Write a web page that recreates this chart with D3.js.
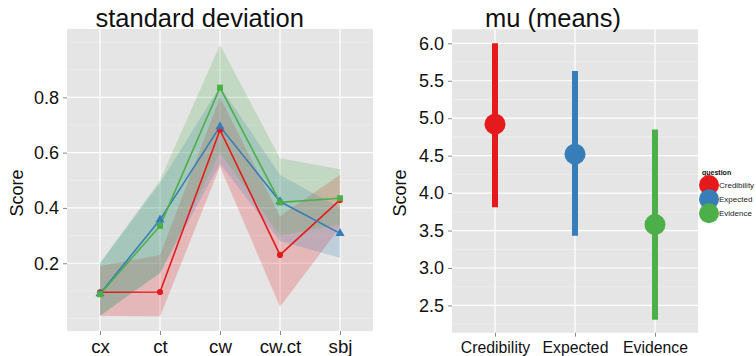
<!DOCTYPE html>
<html>
<head>
<meta charset="utf-8">
<script src="https://cdn.jsdelivr.net/npm/d3@7"></script>
<style>
  body { margin: 0; background: #fff; }
  svg { display: block; font-family: "Liberation Sans", Arial, sans-serif; }
</style>
</head>
<body>
<svg id="chart" width="756" height="356"></svg>
<script>
// --- data ---
const questions = ['Credibility', 'Expected', 'Evidence'];
const colors = ['#E41A1C', '#377EB8', '#4DAF4A'];

// left panel: standard deviation per condition
const sdCats = ['cx', 'ct', 'cw', 'cw.ct', 'sbj'];
const sdCredibility = [0.095, 0.096, 0.682, 0.23, 0.429];
const sdExpected = [0.09, 0.357, 0.694, 0.423, 0.308];
const sdEvidence = [0.088, 0.335, 0.835, 0.42, 0.435];
const sdLowCredibility = [0.01, 0.007, 0.55, 0.043, 0.33];
const sdHighCredibility = [0.19, 0.23, 0.8, 0.37, 0.52];
const sdLowExpected = [0.01, 0.165, 0.56, 0.28, 0.22];
const sdHighExpected = [0.2, 0.49, 0.84, 0.52, 0.4];
const sdLowEvidence = [0.01, 0.165, 0.6, 0.3, 0.34];
const sdHighEvidence = [0.2, 0.5, 0.99, 0.58, 0.54];
const sdTicks = [0.2, 0.4, 0.6, 0.8];
const sdMinor = [0.0, 0.1, 0.3, 0.5, 0.7, 0.9, 1.0];

// right panel: mu (means)
const muMean = [4.92, 4.52, 3.58];
const muLow = [3.81, 3.43, 2.31];
const muHigh = [6.0, 5.63, 4.85];
const muTicks = [2.5, 3.0, 3.5, 4.0, 4.5, 5.0, 5.5, 6.0];
const muMinor = [2.25, 2.75, 3.25, 3.75, 4.25, 4.75, 5.25, 5.75];

const sdSeries = [
  { q: questions[0], v: sdCredibility, lo: sdLowCredibility, hi: sdHighCredibility },
  { q: questions[1], v: sdExpected, lo: sdLowExpected, hi: sdHighExpected },
  { q: questions[2], v: sdEvidence, lo: sdLowEvidence, hi: sdHighEvidence }
];

const svg = d3.select('#chart');
const color = d3.scaleOrdinal().domain(questions).range(colors);
const panelBg = '#E5E5E5';

// ---------- left panel ----------
const L = { x0: 67, x1: 373, y0: 29, y1: 331 };
const xL = d3.scalePoint().domain(sdCats).range([L.x0, L.x1]).padding(0.55);
const yL = d3.scaleLinear().domain([-0.045, 1.047]).range([L.y1, L.y0]);

const gL = svg.append('g');
gL.append('rect').attr('x', L.x0).attr('y', L.y0)
  .attr('width', L.x1 - L.x0).attr('height', L.y1 - L.y0).attr('fill', panelBg);

gL.selectAll('.minor').data(sdMinor).enter().append('line')
  .attr('x1', L.x0).attr('x2', L.x1)
  .attr('y1', d => yL(d)).attr('y2', d => yL(d))
  .attr('stroke', '#f2f2f2').attr('stroke-width', 0.6);
gL.selectAll('.major').data(sdTicks).enter().append('line')
  .attr('x1', L.x0).attr('x2', L.x1)
  .attr('y1', d => yL(d)).attr('y2', d => yL(d))
  .attr('stroke', '#fff').attr('stroke-width', 1.2);
gL.selectAll('.vgrid').data(sdCats).enter().append('line')
  .attr('x1', d => xL(d)).attr('x2', d => xL(d))
  .attr('y1', L.y0).attr('y2', L.y1)
  .attr('stroke', '#fff').attr('stroke-width', 1.2);

const area = d3.area()
  .x((d, i) => xL(sdCats[i]))
  .y0(d => yL(d[0])).y1(d => yL(d[1]));

gL.selectAll('.ribbon').data(sdSeries).enter().append('path')
  .attr('d', s => area(s.lo.map((lo, i) => [lo, s.hi[i]])))
  .attr('fill', s => color(s.q)).attr('fill-opacity', 0.22);

const line = d3.line().x((d, i) => xL(sdCats[i])).y(d => yL(d));
gL.selectAll('.sdline').data(sdSeries).enter().append('path')
  .attr('d', s => line(s.v))
  .attr('fill', 'none').attr('stroke', s => color(s.q)).attr('stroke-width', 1.6);

const shapes = [d3.symbolCircle, d3.symbolTriangle, d3.symbolSquare];
const sizes = [30, 36, 36];
sdSeries.forEach((s, k) => {
  gL.selectAll('.pt' + k).data(s.v).enter().append('path')
    .attr('transform', (d, i) => `translate(${xL(sdCats[i])},${yL(d)})`)
    .attr('d', d3.symbol().type(shapes[k]).size(sizes[k]))
    .attr('fill', color(s.q));
});

// axes
const axL = d3.axisLeft(yL).tickValues(sdTicks).tickFormat(d3.format('.1f')).tickSize(4).tickPadding(4);
const ayL = gL.append('g').attr('transform', `translate(${L.x0},0)`).call(axL);
const axB = d3.axisBottom(xL).tickSize(4).tickPadding(4.5);
const axbL = gL.append('g').attr('transform', `translate(0,${L.y1})`).call(axB);
[ayL, axbL].forEach(a => {
  a.select('.domain').remove();
  a.selectAll('.tick line').attr('stroke', '#888');
  a.selectAll('.tick text').attr('fill', '#111').attr('font-size', 18)
    .style('font-family', '"Liberation Sans", Arial, sans-serif');
});
axbL.selectAll('.tick text').attr('font-size', 18.7);

gL.append('text').attr('x', 199.7).attr('y', 26.5).attr('text-anchor', 'middle')
  .attr('font-size', 25.5).attr('fill', '#111').text('standard deviation');
gL.append('text').attr('transform', 'translate(23,193) rotate(-90)')
  .attr('text-anchor', 'middle').attr('font-size', 18).attr('fill', '#111').text('Score');

// ---------- right panel ----------
const R = { x0: 452, x1: 698, y0: 29.3, y1: 332.7 };
const xR = d3.scalePoint().domain(questions).range([R.x0, R.x1]).padding(0.5375);
const yR = d3.scaleLinear().domain([2.136, 6.187]).range([R.y1, R.y0]);

const gR = svg.append('g');
gR.append('rect').attr('x', R.x0).attr('y', R.y0)
  .attr('width', R.x1 - R.x0).attr('height', R.y1 - R.y0).attr('fill', panelBg);
gR.selectAll('.minor').data(muMinor).enter().append('line')
  .attr('x1', R.x0).attr('x2', R.x1)
  .attr('y1', d => yR(d)).attr('y2', d => yR(d))
  .attr('stroke', '#f2f2f2').attr('stroke-width', 0.6);
gR.selectAll('.major').data(muTicks).enter().append('line')
  .attr('x1', R.x0).attr('x2', R.x1)
  .attr('y1', d => yR(d)).attr('y2', d => yR(d))
  .attr('stroke', '#fff').attr('stroke-width', 1.2);
gR.selectAll('.vgrid').data(questions).enter().append('line')
  .attr('x1', d => xR(d)).attr('x2', d => xR(d))
  .attr('y1', R.y0).attr('y2', R.y1)
  .attr('stroke', '#fff').attr('stroke-width', 1.2);

gR.selectAll('.range').data(questions).enter().append('line')
  .attr('x1', d => xR(d)).attr('x2', d => xR(d))
  .attr('y1', (d, i) => yR(muLow[i])).attr('y2', (d, i) => yR(muHigh[i]))
  .attr('stroke', d => color(d)).attr('stroke-width', 6);
gR.selectAll('.mean').data(questions).enter().append('circle')
  .attr('cx', d => xR(d)).attr('cy', (d, i) => yR(muMean[i]))
  .attr('r', 10.5).attr('fill', d => color(d));

const ayR = gR.append('g').attr('transform', `translate(${R.x0},0)`)
  .call(d3.axisLeft(yR).tickValues(muTicks).tickFormat(d3.format('.1f')).tickSize(4).tickPadding(4));
const axbR = gR.append('g').attr('transform', `translate(0,${R.y1})`)
  .call(d3.axisBottom(xR).tickSize(4).tickPadding(5));
[ayR, axbR].forEach(a => {
  a.select('.domain').remove();
  a.selectAll('.tick line').attr('stroke', '#888');
  a.selectAll('.tick text').attr('fill', '#111').attr('font-size', 18)
    .style('font-family', '"Liberation Sans", Arial, sans-serif');
});
axbR.selectAll('.tick text').attr('font-size', 15.8);

gR.append('text').attr('x', 553).attr('y', 26.5).attr('text-anchor', 'middle')
  .attr('font-size', 25.5).attr('fill', '#111').text('mu (means)');
gR.append('text').attr('transform', 'translate(406,193) rotate(-90)')
  .attr('text-anchor', 'middle').attr('font-size', 18).attr('fill', '#111').text('Score');

// legend
const leg = svg.append('g');
leg.append('text').attr('x', 702).attr('y', 175).attr('font-size', 7)
  .attr('font-weight', 'bold').attr('fill', '#111').text('question');
const legY = d3.scalePoint().domain(questions).range([185, 213.3]);
leg.selectAll('circle').data(questions).enter().append('circle')
  .attr('cx', 709).attr('cy', d => legY(d)).attr('r', 10).attr('fill', d => color(d));
leg.selectAll('.lab').data(questions).enter().append('text')
  .attr('x', 719).attr('y', d => legY(d)).attr('dy', '0.35em')
  .attr('font-size', 8).attr('fill', '#222').text(d => d);
</script>
</body>
</html>
